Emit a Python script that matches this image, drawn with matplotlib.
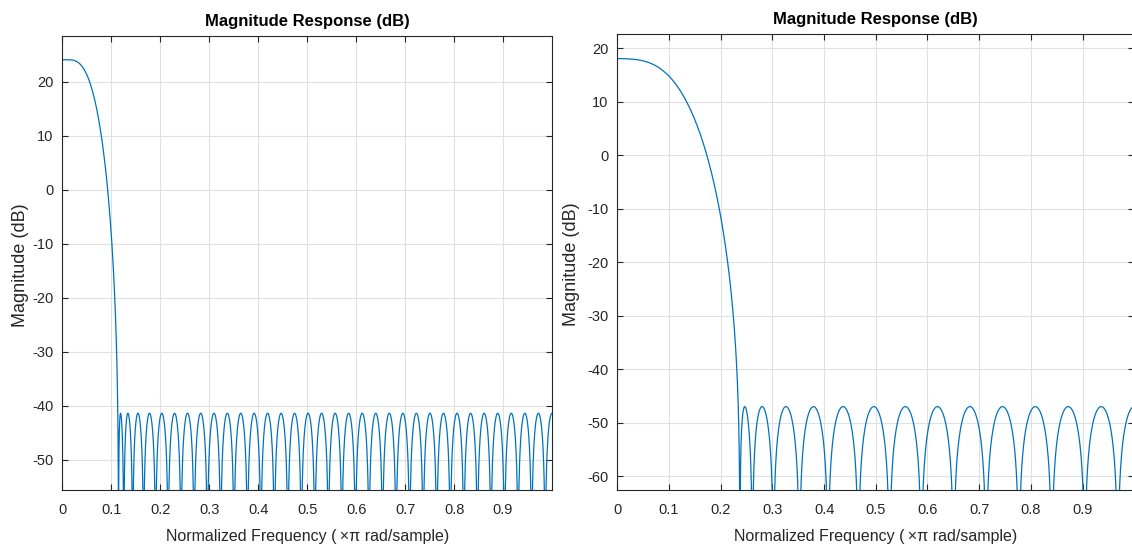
import numpy as np
import matplotlib.pyplot as plt

# two interpolation lowpass filters (equiripple stopband)
interp_factor = [16, 8]          # DC gain 24.08 dB / 18.06 dB
half_order = [36, 15]            # filter orders 72 and 30
pass_edge = [0.015, 0.01]        # x pi rad/sample
stop_edge = [0.113, 0.234]       # x pi rad/sample
y_limits = [(-55.5, 28.5), (-62.5, 22.7)]
y_ticks = [[-50, -40, -30, -20, -10, 0, 10, 20],
           [-60, -50, -40, -30, -20, -10, 0, 10, 20]]
x_ticks = [0, 0.1, 0.2, 0.3, 0.4, 0.5, 0.6, 0.7, 0.8, 0.9]
x_ticklabels = ["0", "0.1", "0.2", "0.3", "0.4", "0.5", "0.6", "0.7", "0.8", "0.9"]
title_text = "Magnitude Response (dB)"
xlabel_text = "Normalized Frequency (\u2009\u00d7\u03c0 rad/sample)"
ylabel_text = "Magnitude (dB)"

# axes boxes in figure fractions, label offsets in axes fractions
ax_boxes = [[0.0552, 0.1051, 0.4324, 0.8293], [0.5453, 0.1051, 0.4567, 0.8331]]
ylabel_x = [-0.068, -0.072]

plt.rcParams['font.family'] = ['Liberation Sans', 'DejaVu Sans']
plt.rcParams['axes.unicode_minus'] = False


def design_lowpass(K, wp, ws, iters=400):
    # minimax (Lawson) design of a type I linear phase lowpass
    w = np.concatenate([np.linspace(0, wp * np.pi, 300), np.linspace(ws * np.pi, np.pi, 3000)])
    D = (w <= wp * np.pi + 1e-12).astype(float)
    C = np.cos(np.outer(w, np.arange(K + 1)))
    v = np.ones_like(w) / len(w)
    for _ in range(iters):
        sw = np.sqrt(v)
        a = np.linalg.lstsq(C * sw[:, None], D * sw, rcond=None)[0]
        v = v * np.abs(C @ a - D)
        v = v / v.sum()
    return a


def magnitude_db(a, L, npts=8192):
    f = np.arange(npts) / npts
    H = np.cos(np.outer(f * np.pi, np.arange(len(a)))) @ a
    H = H / H[0] * L
    return f, 20 * np.log10(np.abs(H) + 1e-12)


fig = plt.figure(figsize=(11.32, 5.47), dpi=100)
dark = '#262626'

for i in range(2):
    ax = fig.add_axes(ax_boxes[i])
    a = design_lowpass(half_order[i], pass_edge[i], stop_edge[i])
    f, db = magnitude_db(a, interp_factor[i])
    ax.plot(f, db, color='#0072BD', lw=0.9)

    ax.set_xlim(0, 1)
    ax.set_ylim(*y_limits[i])
    ax.set_xticks(x_ticks)
    ax.set_xticklabels(x_ticklabels)
    ax.set_yticks(y_ticks[i])
    ax.grid(True, color='#e0e0e0', lw=0.8)
    ax.set_axisbelow(True)
    ax.tick_params(direction='in', top=True, right=True, length=4.5, width=0.8,
                   colors=dark, labelsize=10.5)
    ax.tick_params(axis='x', pad=10)
    ax.tick_params(axis='y', pad=6.5)
    for s in ax.spines.values():
        s.set_color(dark)
        s.set_linewidth(0.8)

    ax.set_title(title_text, fontsize=12, fontweight='bold', pad=7, color='black')
    ax.set_xlabel(xlabel_text, fontsize=11.5, color=dark)
    ax.set_ylabel(ylabel_text, fontsize=13, color=dark)
    ax.xaxis.set_label_coords(0.5, -0.087)
    ax.yaxis.set_label_coords(ylabel_x[i], 0.495)

fig.savefig("out.png")
